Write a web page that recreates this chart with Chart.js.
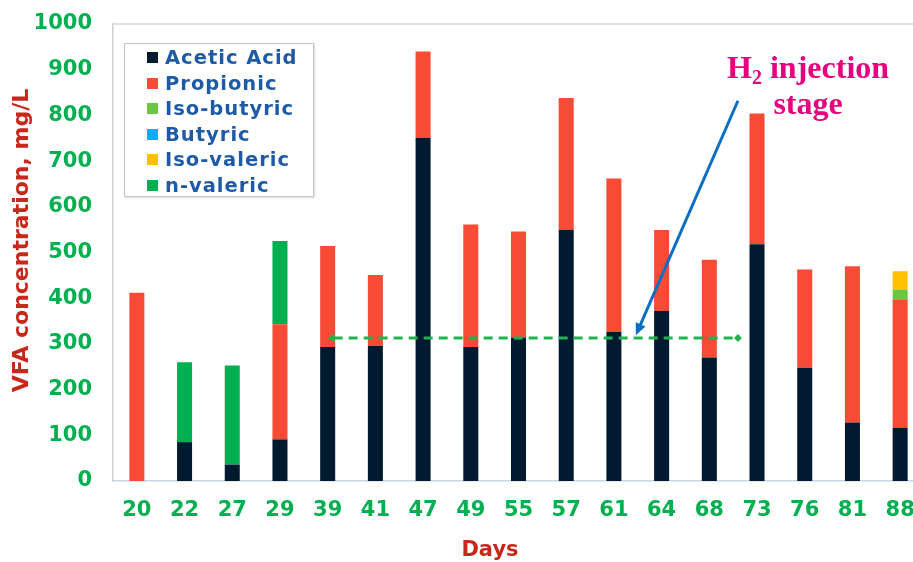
<!DOCTYPE html>
<html>
<head>
<meta charset="utf-8">
<script src="https://cdn.jsdelivr.net/npm/chart.js@4.4.0/dist/chart.umd.min.js"></script>
<style>
  html, body { margin: 0; padding: 0; background: #fff; overflow: hidden; }
  #wrap { position: relative; width: 924px; height: 562px; }
  #leyenda {
    position: absolute; left: 124px; top: 43px; width: 190px; height: 154px;
    border: 1.5px solid #c4c4c4; box-shadow: 1px 1px 2px rgba(0,0,0,0.15);
    background: #fff; box-sizing: border-box; padding-top: 1px;
    font: bold 19.5px 'DejaVu Sans'; letter-spacing: 1px; color: #1f5aa6;
  }
  .item { height: 25.5px; display: flex; align-items: center; white-space: nowrap; }
  .cuadro { width: 11px; height: 11px; margin-left: 22px; margin-right: 7px; flex: none; }
</style>
</head>
<body>
<div id="wrap">
  <canvas id="grafico" width="924" height="562"></canvas>
  <div id="leyenda"></div>
</div>
<script>
// Datos del grafico
const dias = ['20', '22', '27', '29', '39', '41', '47', '49', '55', '57', '61', '64', '68', '73', '76', '81', '88'];
const acetico     = [0, 85, 36, 91, 293, 296, 751, 293, 314, 550, 326, 372, 270, 518, 248, 128, 116];
const propionico  = [412, 0, 0, 252, 221, 155, 189, 268, 232, 288, 336, 177, 214, 286, 215, 342, 280];
const isoButirico = [0, 0, 0, 0, 0, 0, 0, 0, 0, 0, 0, 0, 0, 0, 0, 0, 23];
const butirico    = [0, 0, 0, 0, 0, 0, 0, 0, 0, 0, 0, 0, 0, 0, 0, 0, 0];
const isoValerico = [0, 0, 0, 0, 0, 0, 0, 0, 0, 0, 0, 0, 0, 0, 0, 0, 40];
const nValerico   = [0, 175, 217, 182, 0, 0, 0, 0, 0, 0, 0, 0, 0, 0, 0, 0, 0];
const ticksY = [0, 100, 200, 300, 400, 500, 600, 700, 800, 900, 1000];

const nombres = ['Acetic Acid', 'Propionic', 'Iso-butyric', 'Butyric', 'Iso-valeric', 'n-valeric'];
const colores = ['#021a30', '#f74b35', '#6cc644', '#00b0f0', '#ffc000', '#00b050'];
const series = [acetico, propionico, isoButirico, butirico, isoValerico, nValerico];

// Anotacion: linea de inyeccion de H2 y flecha
const nivelInyeccion = 313;
const inicioInyeccion = 4;     // indice del dia 39
const finInyeccion = 12.6;
const flechaDesde = { x: 12.6, y: 832 };
const flechaHasta = { x: 10.46, y: 319 };
const textoPos = { x: 14.07, y1: 882, y2: 803 };

const verde = '#00b050';
const rojo = '#c8281c';

// Leyenda en HTML
const leyenda = document.getElementById('leyenda');
nombres.forEach((n, i) => {
  const item = document.createElement('div');
  item.className = 'item';
  item.innerHTML = '<span class="cuadro" style="background:' + colores[i] + '"></span><span>' + n + '</span>';
  leyenda.appendChild(item);
});

const anotaciones = {
  id: 'anotaciones',
  afterDraw(chart) {
    const ctx = chart.ctx;
    const x = chart.scales.x, y = chart.scales.y;
    const area = chart.chartArea;
    ctx.save();

    // borde superior del area
    ctx.strokeStyle = '#d6d6d6';
    ctx.lineWidth = 1.5;
    ctx.beginPath();
    ctx.moveTo(area.left, area.top);
    ctx.lineTo(area.right, area.top);
    ctx.stroke();

    // linea punteada verde
    const yLinea = y.getPixelForValue(nivelInyeccion);
    const x1 = x.getPixelForValue(inicioInyeccion);
    const x2 = x.getPixelForValue(finInyeccion);
    ctx.strokeStyle = '#1fb34f';
    ctx.lineWidth = 3;
    ctx.setLineDash([9, 6]);
    ctx.beginPath();
    ctx.moveTo(x1 + 6, yLinea);
    ctx.lineTo(x2, yLinea);
    ctx.stroke();
    ctx.setLineDash([]);
    ctx.fillStyle = '#1fb34f';
    ctx.beginPath();
    ctx.moveTo(x1, yLinea);
    ctx.lineTo(x1 + 7, yLinea - 4);
    ctx.lineTo(x1 + 7, yLinea + 4);
    ctx.closePath();
    ctx.fill();
    ctx.beginPath();
    ctx.moveTo(x2 + 4, yLinea);
    ctx.lineTo(x2, yLinea - 4);
    ctx.lineTo(x2 - 4, yLinea);
    ctx.lineTo(x2, yLinea + 4);
    ctx.closePath();
    ctx.fill();

    // flecha azul
    const ax = x.getPixelForValue(flechaDesde.x), ay = y.getPixelForValue(flechaDesde.y);
    const bx = x.getPixelForValue(flechaHasta.x), by = y.getPixelForValue(flechaHasta.y);
    const ang = Math.atan2(by - ay, bx - ax);
    const largo = 13;
    ctx.strokeStyle = '#0a6fc2';
    ctx.fillStyle = '#0a6fc2';
    ctx.lineWidth = 3;
    ctx.beginPath();
    ctx.moveTo(ax, ay);
    ctx.lineTo(bx - Math.cos(ang) * largo * 0.8, by - Math.sin(ang) * largo * 0.8);
    ctx.stroke();
    ctx.beginPath();
    ctx.moveTo(bx, by);
    ctx.lineTo(bx - Math.cos(ang - 0.42) * largo, by - Math.sin(ang - 0.42) * largo);
    ctx.lineTo(bx - Math.cos(ang + 0.42) * largo, by - Math.sin(ang + 0.42) * largo);
    ctx.closePath();
    ctx.fill();

    // texto "H2 injection stage"
    const cx = x.getPixelForValue(textoPos.x);
    const fGrande = 'bold 32px "Liberation Serif"';
    const fSub = 'bold 20px "Liberation Serif"';
    ctx.fillStyle = '#e6007e';
    ctx.textBaseline = 'alphabetic';
    ctx.textAlign = 'left';
    ctx.font = fGrande;
    const wH = ctx.measureText('H').width;
    const wResto = ctx.measureText(' injection').width;
    ctx.font = fSub;
    const w2 = ctx.measureText('2').width;
    let px = cx - (wH + w2 + wResto) / 2;
    const b1 = y.getPixelForValue(textoPos.y1);
    ctx.font = fGrande;
    ctx.fillText('H', px, b1);
    ctx.font = fSub;
    ctx.fillText('2', px + wH, b1 + 6);
    ctx.font = fGrande;
    ctx.fillText(' injection', px + wH + w2, b1);
    ctx.textAlign = 'center';
    ctx.fillText('stage', cx, y.getPixelForValue(textoPos.y2));

    // titulos de ejes
    ctx.fillStyle = rojo;
    ctx.font = 'bold 22px "DejaVu Sans"';
    ctx.textAlign = 'center';
    ctx.textBaseline = 'middle';
    ctx.save();
    ctx.translate(area.left - 91, (area.top + area.bottom) / 2 - 12);
    ctx.rotate(-Math.PI / 2);
    ctx.fillText('VFA concentration, mg/L', 0, 0);
    ctx.restore();
    ctx.font = 'bold 21px "DejaVu Sans"';
    ctx.fillText('Days', area.left + 377, area.bottom + 70);

    ctx.restore();
  }
};

new Chart(document.getElementById('grafico'), {
  type: 'bar',
  data: {
    labels: dias,
    datasets: series.map((datos, i) => ({
      label: nombres[i],
      data: datos,
      backgroundColor: colores[i],
      borderWidth: 0,
      barPercentage: 0.315,
      categoryPercentage: 1
    }))
  },
  options: {
    responsive: false,
    animation: false,
    devicePixelRatio: 1,
    layout: { padding: { top: 24, right: 0, left: 0, bottom: 0 } },
    plugins: { legend: { display: false }, tooltip: { enabled: false } },
    scales: {
      x: {
        stacked: true,
        grid: { display: false, drawTicks: false },
        border: { display: true, color: '#cad5e6', width: 1.5 },
        ticks: { color: verde, font: { family: 'DejaVu Sans', weight: 'bold', size: 21 }, padding: 17, maxRotation: 0 },
        afterFit: (s) => { s.height = 81; s.paddingLeft = 0; s.paddingRight = 0; }
      },
      y: {
        stacked: true,
        min: 0,
        max: 1000,
        grid: { display: false, drawTicks: false },
        border: { display: true, color: '#d0d0d0', width: 1.5 },
        afterBuildTicks: (s) => { s.ticks = ticksY.map(v => ({ value: v })); },
        ticks: {
          color: verde,
          font: { family: 'DejaVu Sans', weight: 'bold', size: 21 },
          padding: 21,
          callback: (v) => String(v)
        },
        afterFit: (s) => { s.width = 113; s.paddingTop = 0; s.paddingBottom = 0; }
      }
    }
  },
  plugins: [anotaciones]
});
</script>
</body>
</html>
